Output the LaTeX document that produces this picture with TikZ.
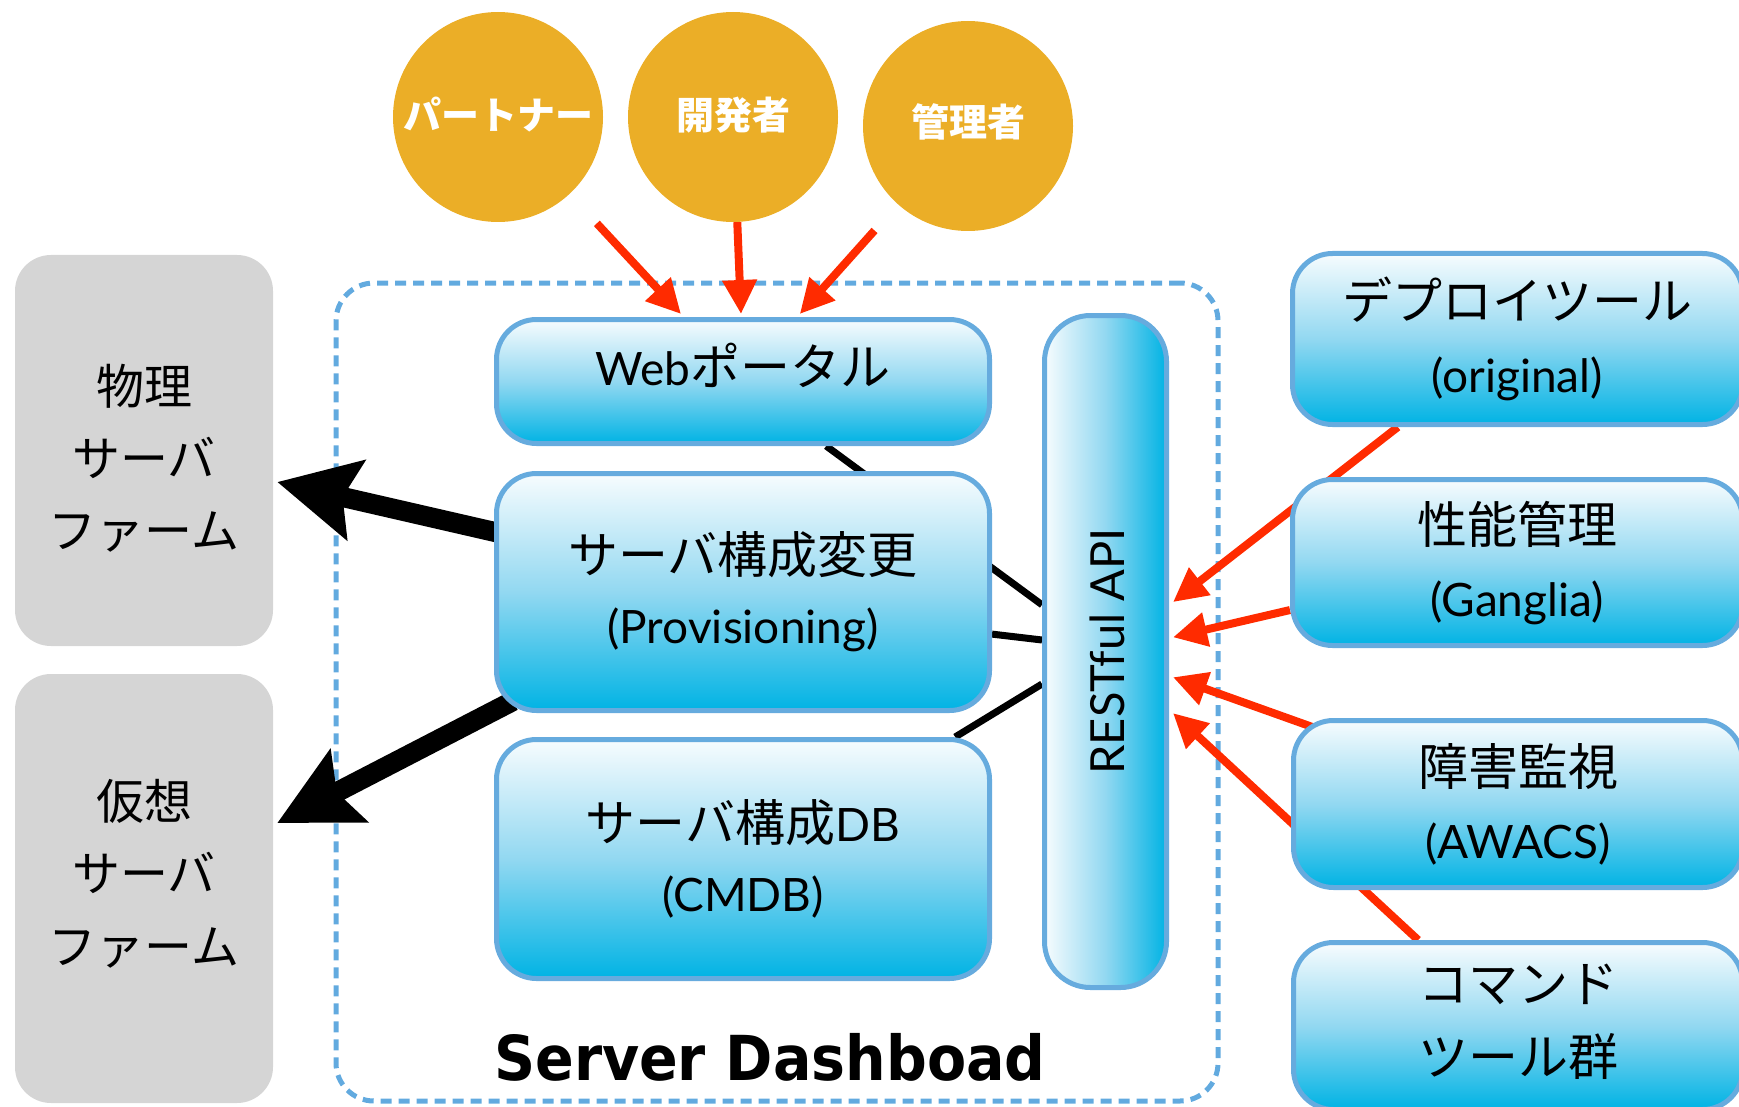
\documentclass[tikz,border=0pt]{standalone}
\usepackage{fontspec}
\setmainfont{Noto Sans CJK JP}
\newfontfamily\lat{Lato}
\newfontfamily\dvs{DejaVu Sans}
\usetikzlibrary{arrows.meta,calc,backgrounds}
\definecolor{gold}{HTML}{EBAE27}
\definecolor{redarr}{HTML}{FF2B00}
\definecolor{grayfill}{HTML}{D5D5D5}
\definecolor{bborder}{HTML}{66ABDE}
\definecolor{btop}{HTML}{F7FCFE}
\definecolor{bmid}{HTML}{92D8F1}
\definecolor{bbot}{HTML}{00B3E4}
\definecolor{dashc}{HTML}{62AADF}
\begin{document}
\begin{tikzpicture}[x=1pt,y=-1pt,
  circ/.style={circle,fill=gold,minimum size=210pt,inner sep=0pt},
  bluebox/.style={draw=bborder,line width=5pt,rounded corners=40pt,inner sep=0pt,
    top color=btop,bottom color=bbot,middle color=bmid},
  apibox/.style={draw=bborder,line width=5pt,rounded corners=46pt,inner sep=0pt,
    left color=btop,right color=bbot,middle color=bmid},
  graybox/.style={fill=grayfill,rounded corners=36pt,inner sep=0pt},
  container/.style={draw=dashc,line width=5pt,dash pattern=on 11pt off 7pt,rounded corners=38pt,inner sep=0pt},
  jtext/.style={anchor=base,inner sep=0pt,font=\fontsize{50}{60}\selectfont},
  ltext/.style={anchor=base,inner sep=0pt,font=\lat\fontsize{46}{55}\selectfont},
  gtext/.style={anchor=base,inner sep=0pt,font=\fontsize{48}{58}\selectfont},
  ctext/.style={anchor=base,inner sep=0pt,text=white,font=\bfseries\fontsize{38}{46}\selectfont},
  redarrow/.style={draw=redarr,line width=8pt,-{Triangle[length=34pt,width=33pt]}},
  thinline/.style={draw=black,line width=7pt},
  thickarrow/.style={draw=black,line width=20pt,-{Stealth[length=80pt,width=80pt,inset=13pt]}}
]
\useasboundingbox (0,0) rectangle (1739,1107);

% actors
\node[circ] (partner) at (498,117) {};
\node[circ] (dev) at (733,117) {};
\node[circ] (admin) at (968,126) {};
\node[ctext] (partnert) at (498,130) {パートナー};
\node[ctext] (devt) at (733,130) {開発者};
\node[ctext] (admint) at (968,137) {管理者};

% farms
\node[graybox,minimum width=258pt,minimum height=391pt] (phys) at (144,450.5) {};
\node[graybox,minimum width=258pt,minimum height=429pt] (virt) at (144,888.5) {};
\node[gtext] (physa) at (144,404) {物理};
\node[gtext] (physb) at (144,476) {サーバ};
\node[gtext] (physc) at (144,548) {ファーム};
\node[gtext] (virta) at (144,819) {仮想};
\node[gtext] (virtb) at (144,891) {サーバ};
\node[gtext] (virtc) at (144,964) {ファーム};

% dashboard boxes
\node[bluebox,minimum width=493pt,minimum height=124pt] (web) at (743,381.5) {};
\node[bluebox,minimum width=493pt,minimum height=237pt] (prov) at (743,592) {};
\node[bluebox,minimum width=493pt,minimum height=239pt] (cmdb) at (743,859) {};
\node[apibox,minimum width=122pt,minimum height=672pt] (api) at (1105.5,651.5) {};
\node[jtext] (webt) at (743,385) {{\lat\fontsize{46}{55}\selectfont Web}ポータル};
\node[jtext] (prova) at (743,573) {サーバ構成変更};
\node[ltext] (provb) at (743,643) {(Provisioning)};
\node[jtext] (cmdba) at (743,841) {サーバ構成{\lat\fontsize{46}{55}\selectfont DB}};
\node[ltext] (cmdbb) at (743,911) {(CMDB)};
\node[anchor=base,inner sep=0pt,rotate=90,font=\lat\fontsize{47}{56}\selectfont] (apit) at (1124,651.5) {RESTful API};
\node[anchor=base,inner sep=0pt] (title) at (770,1080) {\scalebox{0.92}[1]{\dvs\bfseries\fontsize{62}{74}\selectfont Server Dashboad}};

% tools
\node[bluebox,minimum width=450pt,minimum height=171pt] (deploy) at (1517.5,339) {};
\node[bluebox,minimum width=450pt,minimum height=166pt] (perf) at (1517.5,562.5) {};
\node[bluebox,minimum width=449pt,minimum height=167pt] (fault) at (1518,804) {};
\node[bluebox,minimum width=449pt,minimum height=167pt] (cmd) at (1518,1026) {};
\node[jtext] (deploya) at (1517,319) {デプロイツール};
\node[ltext] (deployb) at (1517,392) {(original)};
\node[jtext] (perfa) at (1517,543) {性能管理};
\node[ltext] (perfb) at (1517,616) {(Ganglia)};
\node[jtext] (faulta) at (1518,785) {障害監視};
\node[ltext] (faultb) at (1518,858) {(AWACS)};
\node[jtext] (cmda) at (1518,1002) {コマンド};
\node[jtext] (cmdb2) at (1518,1075) {ツール群};

\begin{scope}[on background layer]
  \node[container,minimum width=882pt,minimum height=818pt] (dash) at (777,692) {};
  % users to web portal
  \draw[redarrow,shorten <=40pt] (partner) -- ($(web.north west)!0.3755!(web.north east)+(0,-3)$);
  \draw[redarrow] (dev) -- ($(web.north west)!0.496!(web.north east)+(0,-3)$);
  \draw[redarrow,shorten <=35pt] (admin) -- ($(web.north west)!0.614!(web.north east)+(0,-3)$);
  % tools to API
  \draw[redarrow] ($(deploy.south west)!0.237!(deploy.south east)$) -- ($(api.north east)!0.427!(api.south east)+(4,0)$);
  \draw[redarrow] ($(perf.north west)!0.778!(perf.south west)$) -- ($(api.north east)!0.479!(api.south east)+(4,0)$);
  \draw[redarrow] ($(fault.north west)+(27,11)$) -- ($(api.north east)!0.538!(api.south east)+(4,0)$);
  \draw[redarrow] ($(cmd.north west)!0.28!(cmd.north east)$) -- ($(api.north east)!0.591!(api.south east)+(4,0)$);
  % internal links
  \draw[thinline] ($(web.south west)!0.667!(web.south east)$) -- ($(api.north west)!0.431!(api.south west)$);
  \draw[thinline] ($(prov.north east)!0.674!(prov.south east)$) -- ($(api.north west)!0.483!(api.south west)$);
  \draw[thinline] ($(cmdb.north west)!0.926!(cmdb.north east)$) -- ($(api.north west)!0.548!(api.south west)$);
  % provisioning to farms
  \draw[thickarrow] ($(prov.west)+(14,-57)$) -- ($(phys.east)+(4,31.5)$);
  \draw[thickarrow] ($(prov.south west)+(19,-12)$) -- ($(virt.east)+(4,-65.5)$);
\end{scope}
\end{tikzpicture}
\end{document}
